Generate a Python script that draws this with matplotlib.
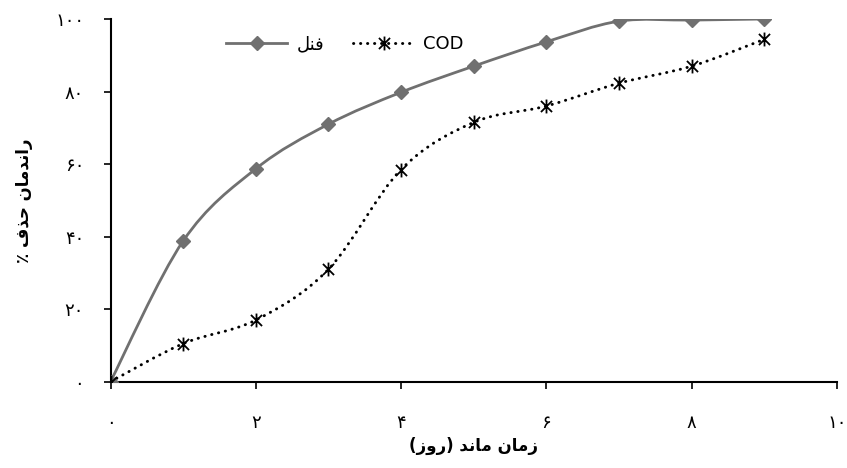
import matplotlib
matplotlib.use("Agg")
import matplotlib.pyplot as plt
import numpy as np
from matplotlib.path import Path
from matplotlib.patches import PathPatch
from matplotlib.lines import Line2D

# ---- data ----
days = [0, 1, 2, 3, 4, 5, 6, 7, 8, 9]
phenol = [0, 38.8, 58.7, 71.0, 79.8, 87.0, 93.7, 99.4, 99.7, 100.0]
cod = [0, 10.5, 17.0, 31.0, 58.5, 71.5, 76.0, 82.3, 87.0, 94.4]
x_ticks = [0, 2, 4, 6, 8, 10]
x_tick_labels = ['۰', '۲', '۴', '۶', '۸', '۱۰']
y_ticks = [0, 20, 40, 60, 80, 100]
y_tick_labels = ['۰', '۲۰', '۴۰', '۶۰', '۸۰', '۱۰۰']
# Arabic text written in visual (left-to-right) order with presentation forms
label_phenol = "\uFEDE\uFEE8\uFED3"          # فنل
label_cod = "COD"
x_label = "(\uFEAF\uFEED\uFEAD) \uFEAA\uFEE7\uFE8E\uFEE3 \uFEE5\uFE8E\uFEE3\uFEAF"  # زمان ماند (روز)
y_label = "\u066A \uFED1\uFEAC\uFEA3 \uFEE5\uFE8E\uFEE3\uFEAA\uFEE7\uFE8D\uFEAD"   # راندمان حذف ٪

GRAY = '#707070'
DOTS = (0, (0.1, 2.3))


def smooth_path(xs, ys):
    pts = np.column_stack([xs, ys]).astype(float)
    n = len(pts)
    verts = [pts[0]]
    codes = [Path.MOVETO]
    for i in range(n - 1):
        p0 = pts[i - 1] if i > 0 else pts[i]
        p1 = pts[i]
        p2 = pts[i + 1]
        p3 = pts[i + 2] if i + 2 < n else pts[i + 1]
        c1 = p1 + (p2 - p0) / 6.0
        c2 = p2 - (p3 - p1) / 6.0
        verts += [c1, c2, p2]
        codes += [Path.CURVE4] * 3
    return Path(verts, codes)


# asterisk marker: vertical bar plus an X
star = Path([(0, -1), (0, 1), (-0.8, -0.8), (0.8, 0.8), (-0.8, 0.8), (0.8, -0.8)],
            [Path.MOVETO, Path.LINETO, Path.MOVETO, Path.LINETO, Path.MOVETO, Path.LINETO])

fig = plt.figure(figsize=(8.47, 4.68), dpi=100)
ax = fig.add_axes([110.5 / 847, 1 - 381.7 / 468, (837 - 110.5) / 847, (381.7 - 19) / 468])

# phenol smooth line
ax.add_patch(PathPatch(smooth_path(days, phenol), facecolor='none', edgecolor=GRAY,
                       lw=2.0, capstyle='round', zorder=2))
ax.plot(days, phenol, linestyle='none', marker='D', markersize=7, color=GRAY, zorder=3)

# COD smooth dotted line
ax.add_patch(PathPatch(smooth_path(days, cod), facecolor='none', edgecolor='black',
                       lw=2.1, linestyle=DOTS, capstyle='round', zorder=2))
ax.plot(days, cod, linestyle='none', marker=star, markersize=10, markeredgewidth=1.3,
        color='black', zorder=4)

ax.set_xlim(0, 10)
ax.set_ylim(0, 100)
for s in ['top', 'right']:
    ax.spines[s].set_visible(False)
for s in ['left', 'bottom']:
    ax.spines[s].set_linewidth(1.5)
ax.set_xticks(x_ticks)
ax.set_xticklabels(x_tick_labels, fontsize=13)
ax.set_yticks(y_ticks)
ax.set_yticklabels(y_tick_labels, fontsize=13)
ax.tick_params(axis='x', direction='out', length=5, width=1.2, pad=18)
ax.tick_params(axis='y', direction='out', length=5, width=1.2, pad=14)

ax.set_xlabel(x_label, fontsize=12, fontweight='bold', labelpad=4)
ax.set_ylabel(y_label, fontsize=12, fontweight='bold', labelpad=16)

handles = [
    Line2D([], [], color=GRAY, lw=2.0, marker='D', markersize=7),
    Line2D([], [], color='black', lw=2.1, linestyle=DOTS, dash_capstyle='round',
           marker=star, markersize=10, markeredgewidth=1.3),
]
ax.legend(handles, [label_phenol, label_cod], ncol=2, frameon=False, fontsize=13,
          loc='center', bbox_to_anchor=((345 - 110.5) / (837 - 110.5), (381.7 - 44) / (381.7 - 19)),
          handlelength=3.4, columnspacing=1.6, handletextpad=0.5)

fig.savefig('out.png', dpi=100)
